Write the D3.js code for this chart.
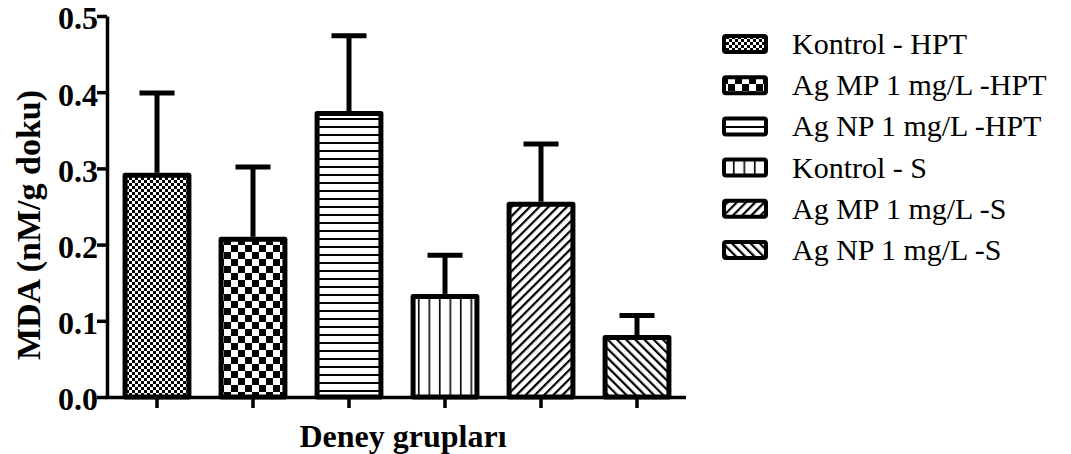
<!DOCTYPE html>
<html><head><meta charset="utf-8">
<script src="https://cdn.jsdelivr.net/npm/d3@7"></script>
<style>
html,body{margin:0;padding:0;background:#fff;}
svg{display:block;}
svg text{font-family:"Liberation Serif","Times New Roman",Times,serif;}
</style></head>
<body><svg id="c" width="1071" height="454"></svg>
<script>
const categories = ["Kontrol - HPT","Ag MP 1 mg/L -HPT","Ag NP 1 mg/L -HPT","Kontrol - S","Ag MP 1 mg/L -S","Ag NP 1 mg/L -S"];
const means = [0.291, 0.207, 0.372, 0.132, 0.253, 0.078];
const errTops = [0.399, 0.302, 0.474, 0.186, 0.332, 0.107];
const yTicks = [0.0, 0.1, 0.2, 0.3, 0.4, 0.5];
const patternIds = ["pFine","pCheck","pHoriz","pVert","pDiagR","pDiagL"];
const FONT = "Liberation Serif";

const svg = d3.select("#c");
const defs = svg.append("defs");
function pat(id, w, h, transform){
  const p = defs.append("pattern").attr("id", id).attr("patternUnits","userSpaceOnUse")
    .attr("width", w).attr("height", h);
  if (transform) p.attr("patternTransform", transform);
  p.append("rect").attr("width", w).attr("height", h).attr("fill","#fff");
  return p;
}
let p = pat("pFine", 6, 6);
p.append("rect").attr("x",0).attr("y",0).attr("width",3).attr("height",3).attr("fill","#000");
p.append("rect").attr("x",3).attr("y",3).attr("width",3).attr("height",3).attr("fill","#000");
p = pat("pCheck", 14, 14);
p.append("rect").attr("x",0).attr("y",0).attr("width",7).attr("height",7).attr("fill","#000");
p.append("rect").attr("x",7).attr("y",7).attr("width",7).attr("height",7).attr("fill","#000");
p = pat("pHoriz", 8, 8);
p.append("rect").attr("x",0).attr("y",6).attr("width",8).attr("height",2).attr("fill","#000");
p = pat("pVert", 10.5, 10);
p.append("rect").attr("x",8.5).attr("y",0).attr("width",1.6).attr("height",10).attr("fill","#000");
p = pat("pDiagR", 6.5, 6.5, "rotate(45)");
p.append("rect").attr("x",0).attr("y",0).attr("width",2.2).attr("height",6.5).attr("fill","#000");
p = pat("pDiagL", 6.5, 6.5, "rotate(-45)");
p.append("rect").attr("x",0).attr("y",0).attr("width",2.2).attr("height",6.5).attr("fill","#000");

const x = d3.scaleBand().domain(categories).range([109, 685]).paddingInner(0.335).paddingOuter(0.1675);
const y = d3.scaleLinear().domain([0, 0.5]).range([397, 16]);

// bars
svg.append("g").selectAll("rect").data(categories).join("rect")
  .attr("x", d => x(d)).attr("width", x.bandwidth())
  .attr("y", (d,i) => y(means[i])).attr("height", (d,i) => y(0) - y(means[i]))
  .attr("fill", (d,i) => `url(#${patternIds[i]})`)
  .attr("stroke","#000").attr("stroke-width",5).attr("stroke-linejoin","round");

// error bars (upper only)
const eg = svg.append("g").attr("stroke","#000").attr("stroke-width",5);
categories.forEach((c,i) => {
  const cx = x(c) + x.bandwidth()/2;
  eg.append("line").attr("x1",cx).attr("x2",cx).attr("y1",y(means[i])-2.5).attr("y2",y(errTops[i]));
  eg.append("line").attr("x1",cx-17.5).attr("x2",cx+17.5).attr("y1",y(errTops[i])).attr("y2",y(errTops[i]));
});

// y axis
const yAxis = svg.append("g").attr("transform","translate(107,0)")
  .call(d3.axisLeft(y).tickValues(yTicks).tickFormat(d3.format(".1f")).tickSize(10).tickSizeOuter(0));
yAxis.attr("font-family", FONT).attr("font-size", 32);
yAxis.select(".domain").attr("stroke-width",3.5);
yAxis.selectAll(".tick line").attr("stroke-width",3.5);
yAxis.selectAll(".tick text").attr("x",-9).attr("dy","0.4em").attr("font-family",FONT).attr("font-weight","bold")
  .attr("font-size",32).attr("fill","#000");

// x axis
const xAxis = svg.append("g").attr("transform","translate(0,397)")
  .call(d3.axisBottom(x).tickSize(11).tickSizeOuter(0).tickFormat(""));
xAxis.select(".domain").attr("d","M105.5,0.5H686").attr("stroke-width",3.5);
xAxis.selectAll(".tick line").attr("stroke-width",3.5);

// axis titles
svg.append("text").attr("x",403).attr("y",447).attr("text-anchor","middle").attr("font-family",FONT)
  .attr("font-weight","bold").attr("font-size",32).text("Deney grupları");
svg.append("text").attr("transform","translate(40,225) rotate(-90)").attr("text-anchor","middle").attr("font-family",FONT)
  .attr("font-weight","bold").attr("font-size",34).text("MDA (nM/g doku)");

// legend
const lg = svg.append("g");
categories.forEach((c,i) => {
  const cy = 44 + i*41.2;
  lg.append("rect").attr("x",724).attr("y",cy-8).attr("width",42).attr("height",16).attr("rx",2)
    .attr("fill",`url(#${patternIds[i]})`).attr("stroke","#000").attr("stroke-width",4).attr("stroke-linejoin","round");
  lg.append("text").attr("x",792).attr("y",cy+10).attr("font-family",FONT).attr("font-size",30).text(c);
});
</script></body></html>
